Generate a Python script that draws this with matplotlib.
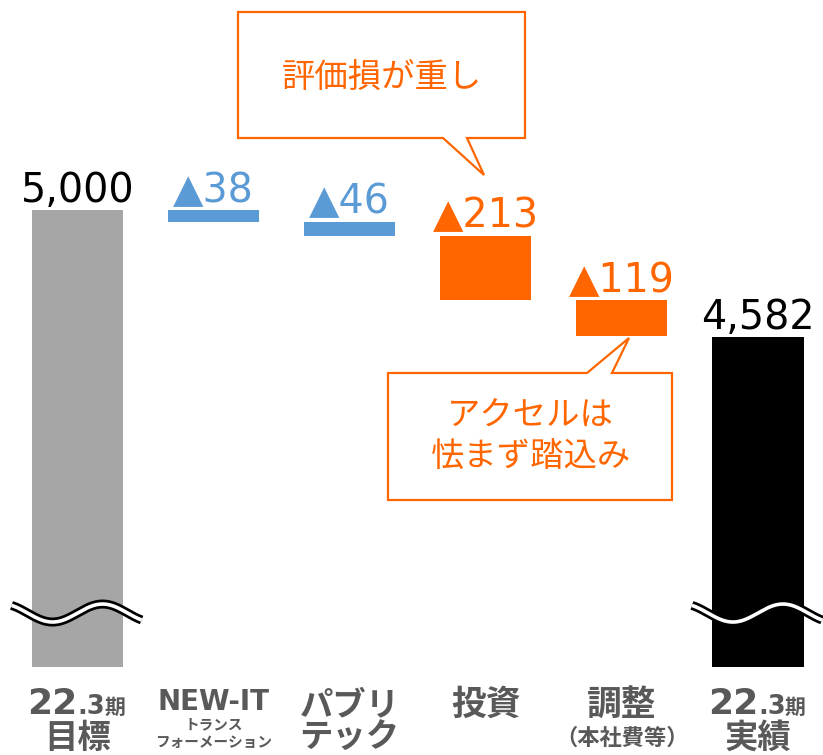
import numpy as np
import matplotlib
matplotlib.use('Agg')
import matplotlib.pyplot as plt
from matplotlib.patches import Polygon

# data
target_val = 5000
deltas = [-38, -46, -213, -119]
actual_val = 4582
delta_colors = ['#5B9BD5', '#5B9BD5', '#FF6600', '#FF6600']
total_colors = ['#A6A6A6', '#000000']
callout1 = '評価損が重し'
callout2 = 'アクセルは\n怯まず踏込み'

W, H = 823, 755
fig = plt.figure(figsize=(W / 100, H / 100), dpi=100)
ax = fig.add_axes([0, (H - 667) / H, 1, 667 / H])
ax.set_xlim(-0.57, 5.478)
ax.set_ylim(3496, 5691)
ax.axis('off')

JP = 'Noto Sans CJK JP'
LAT = 'DejaVu Sans'
GRAY = '#595959'
bw = 0.67

# waterfall bars
xs = np.arange(6)
ax.bar(0, target_val, width=bw, color=total_colors[0], zorder=2)
run = target_val
tops = [target_val]
for i, d in enumerate(deltas):
    ax.bar(i + 1, d, bottom=run, width=bw, color=delta_colors[i], zorder=2)
    tops.append(run)
    run += d
ax.bar(5, actual_val, width=bw, color=total_colors[1], zorder=2)
tops.append(actual_val)

labels = [f'{target_val:,}'] + [f'▲{abs(d)}' for d in deltas] + [f'{actual_val:,}']
lcolors = ['black'] + delta_colors + ['black']
for x, t, s, c in zip(xs, tops, labels, lcolors):
    ax.annotate(s, (x, t), xytext=(0, 6), textcoords='offset points',
                ha='center', va='baseline', fontsize=28.5, color=c,
                family=LAT, zorder=3)

# axis break squiggles on the two total bars
ppx = 0.30383  # pixels per value unit
dx = np.linspace(-66, 64, 200)
ypx = 613 - 9 * np.cos(2 * np.pi * (dx - 25) / 100)
yv = target_val - (ypx - 210) / ppx
for xc in (0, 5):
    ax.plot(xc + dx / 136, yv, color='black', lw=6.5, solid_capstyle='butt',
            zorder=4, clip_on=False)
    ax.plot(xc + dx / 136, yv, color='white', lw=2.6, solid_capstyle='butt',
            zorder=5, clip_on=False)

# category labels (x from data, baseline y in figure pixels)
def cat(x, s, y, size, dx=0, ha='center', fam=JP):
    ax.annotate(s, (x, 1 - y / H), xycoords=('data', 'figure fraction'),
                xytext=(dx, 0), textcoords='offset pixels', ha=ha, va='baseline',
                fontsize=size, color=GRAY, family=fam, weight='bold')

for x in (0, 5):
    cat(x, '22', 714, 26, dx=0, ha='right', fam=LAT)
    cat(x, '.3', 714, 18.5, dx=0, ha='left', fam=LAT)
    cat(x, '期', 714, 15, dx=27, ha='left')
cat(0, '目標', 748, 24)
cat(5, '実績', 748, 24)
cat(1, 'NEW-IT', 710, 20, fam=LAT)
cat(1, 'トランス', 729, 10.5)
cat(1, 'フォーメーション', 747, 10.5)
cat(2, 'パブリ', 715, 24)
cat(2, 'テック', 748, 24)
cat(3, '投資', 715, 25)
cat(4, '調整', 715, 25)
cat(4, '（本社費等）', 745, 16)

# callouts
ORANGE = '#FF6600'
def px(pts):
    return [(x / W, 1 - y / H) for x, y in pts]

box1 = [(238, 12), (525, 12), (525, 138), (467, 138), (484, 175), (443, 138), (238, 138)]
box2 = [(388, 373), (587, 373), (629, 338), (612, 373), (672, 373), (672, 500), (388, 500)]
for b in (box1, box2):
    fig.patches.append(Polygon(px(b), closed=True, transform=fig.transFigure,
                               facecolor='white', edgecolor=ORANGE, lw=1.6,
                               joinstyle='miter', zorder=6))
fig.text(382 / W, 1 - 77 / H, callout1, ha='center', va='center', fontsize=24,
         color=ORANGE, family=JP, zorder=7)
fig.text(530 / W, 1 - 436 / H, callout2, ha='center', va='center', fontsize=24,
         color=ORANGE, family=JP, linespacing=1.25, zorder=7)

fig.savefig('out.png', dpi=100)
